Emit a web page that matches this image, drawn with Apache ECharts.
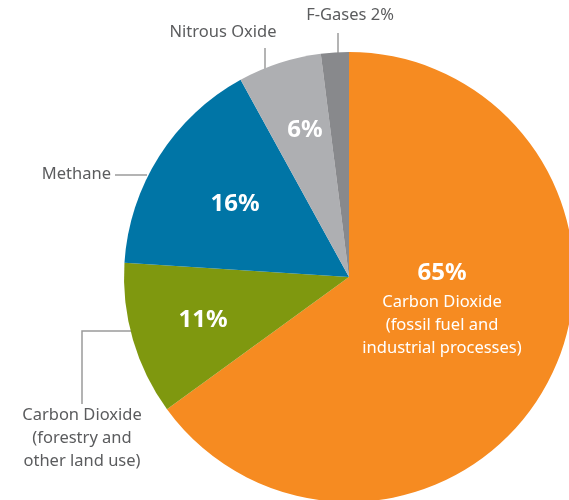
<!DOCTYPE html>
<html>
<head>
<meta charset="utf-8">
<script src="https://cdn.jsdelivr.net/npm/echarts@6/dist/echarts.min.js"></script>
<style>
  html, body { margin: 0; padding: 0; background: #fff; }
  #chart { width: 569px; height: 500px; }
</style>
</head>
<body>
<div id="chart"></div>
<script>
// greenhouse gas shares
const gasNames = [
  "Carbon Dioxide\n(fossil fuel and\nindustrial processes)",
  "Carbon Dioxide\n(forestry and\nother land use)",
  "Methane",
  "Nitrous Oxide",
  "F-Gases 2%"
];
const gasValues = [65, 11, 16, 6, 2];
const gasColors = ["#F68B21", "#7F980F", "#0075A6", "#AEAFB2", "#88898C"];

const font = "Noto Sans";
const textGray = "#5B5C5E";
const lineGray = "#9B9B9B";

// where the labels sit (inside % labels, then outside names)
const innerSpots = [[442, 308], [203, 320], [235, 204], [305, 130], null];
const outerSpots = [
  null,
  { x: 82, y: 438, align: "center", line: [[133, 331], [82, 331], [82, 404]] },
  { x: 111, y: 174, align: "right", line: [[147, 175], [131, 175], [115, 175]] },
  { x: 223, y: 32, align: "center", line: [[265, 73], [265, 60], [265, 48]] },
  { x: 350, y: 15, align: "center", line: [[338, 53], [338, 43], [338, 33]] }
];

const pieData = gasValues.map((v, i) => ({
  name: gasNames[i],
  value: v,
  itemStyle: { color: gasColors[i] }
}));

const chart = echarts.init(document.getElementById("chart"));
chart.setOption({
  animation: false,
  series: [
    {
      type: "pie",
      center: [349, 277],
      radius: 225,
      startAngle: 90,
      clockwise: true,
      data: pieData.map((d, i) => ({
        ...d,
        label: { show: i !== 4 }
      })),
      label: {
        position: "inside",
        color: "#fff",
        fontFamily: font,
        overflow: "none",
        formatter: p => {
          if (p.dataIndex === 0) {
            const lines = p.name.split("\n").map(s => "{d|" + s + "}");
            return "{p|" + p.value + "%}\n" + lines.join("\n");
          }
          return "{p|" + p.value + "%}";
        },
        rich: {
          p: { fontSize: 24, fontWeight: "bold", color: "#fff", lineHeight: 34, fontFamily: font },
          d: { fontSize: 16.5, color: "#fff", lineHeight: 23, fontFamily: font }
        }
      },
      labelLine: { show: false },
      labelLayout: p => {
        const s = innerSpots[p.dataIndex];
        if (!s) return {};
        return { x: s[0], y: s[1], align: "center", verticalAlign: "middle" };
      }
    },
    {
      type: "pie",
      center: [349, 277],
      radius: 225,
      startAngle: 90,
      clockwise: true,
      silent: true,
      data: pieData.map((d, i) => ({
        name: d.name,
        value: d.value,
        itemStyle: { color: "rgba(0,0,0,0)" },
        label: { show: i !== 0 },
        labelLine: { show: i !== 0 }
      })),
      label: {
        position: "outside",
        alignTo: "none",
        overflow: "none",
        width: 200,
        color: textGray,
        fontSize: 16.5,
        lineHeight: 23,
        fontFamily: font,
        formatter: "{b}"
      },
      labelLine: {
        lineStyle: { color: lineGray, width: 1.5 }
      },
      labelLayout: p => {
        const s = outerSpots[p.dataIndex];
        if (!s) return {};
        return {
          x: s.x,
          y: s.y,
          align: s.align,
          verticalAlign: "middle",
          labelLinePoints: s.line
        };
      }
    }
  ]
});
</script>
</body>
</html>
